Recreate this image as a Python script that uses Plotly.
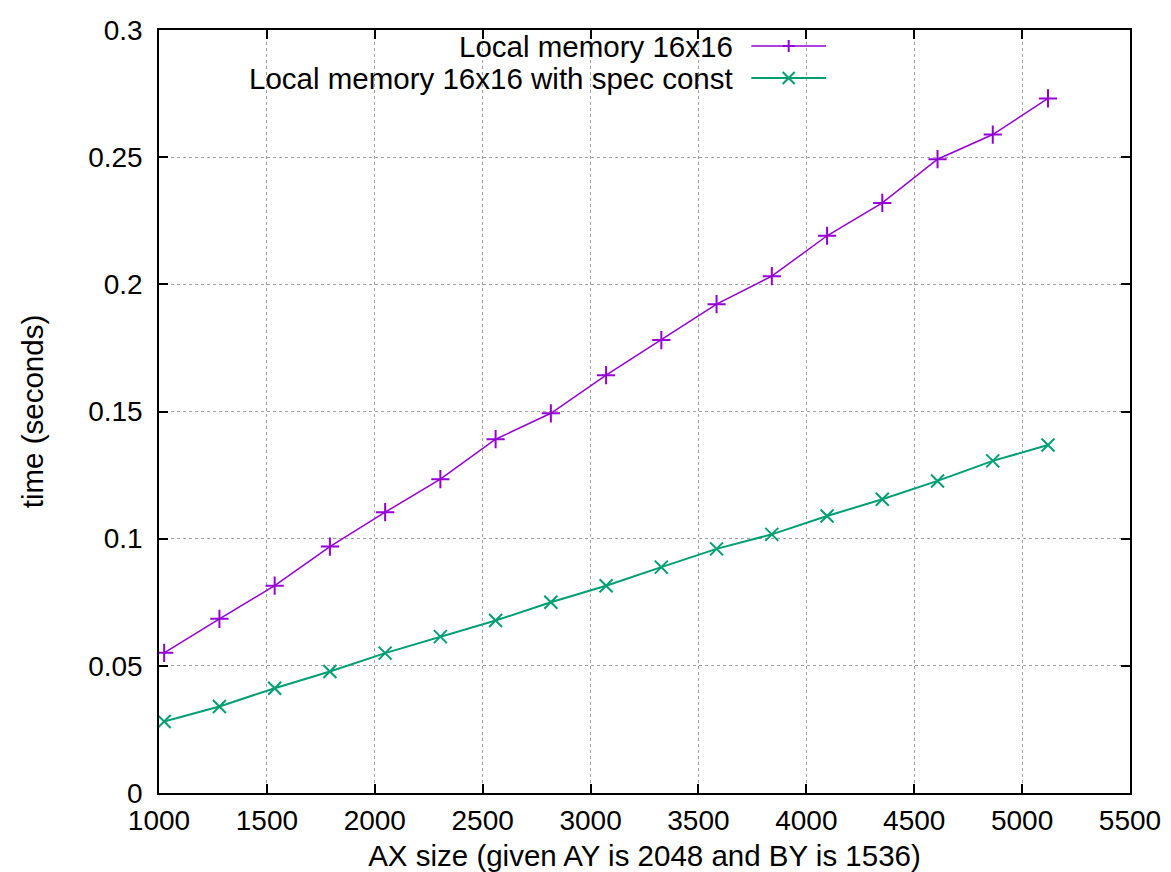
import plotly.graph_objects as go

# AX sizes (multiples of 256)
ax_size = [1024, 1280, 1536, 1792, 2048, 2304, 2560, 2816, 3072,
           3328, 3584, 3840, 4096, 4352, 4608, 4864, 5120]

# Measured run times in seconds
local_mem = [0.0551, 0.0685, 0.0815, 0.0969, 0.1104, 0.1234, 0.1391, 0.1493, 0.1643,
             0.1781, 0.1922, 0.2032, 0.2191, 0.2320, 0.2492, 0.2589, 0.2731]
local_mem_spec = [0.0281, 0.0340, 0.0412, 0.0478, 0.0550, 0.0615, 0.0678, 0.0750, 0.0815,
                  0.0888, 0.0960, 0.1017, 0.1089, 0.1155, 0.1227, 0.1306, 0.1368]

series_names = ["Local memory 16x16", "Local memory 16x16 with spec const"]
series_colors = ["#9400D3", "#009E73"]
series_symbols = ["cross-thin", "x-thin"]

x_ticks = [1000, 1500, 2000, 2500, 3000, 3500, 4000, 4500, 5000, 5500]
y_ticks = [0, 0.05, 0.1, 0.15, 0.2, 0.25, 0.3]
y_tick_text = ["0", "0.05", "0.1", "0.15", "0.2", "0.25", "0.3"]

FONT = "Liberation Sans, Arial, sans-serif"

fig = go.Figure()
for ys, name, col, sym, lw in zip([local_mem, local_mem_spec], series_names,
                                  series_colors, series_symbols, [1.5, 2]):
    fig.add_trace(go.Scatter(
        x=ax_size, y=ys, name=name, mode="lines+markers",
        line=dict(color=col, width=lw),
        marker=dict(symbol=sym, size=13, line=dict(color=col, width=2)),
        showlegend=False,
    ))

# Key in the top area: right-aligned labels followed by sample line and marker
key_rows = [0.979, 0.937]
key_x0, key_x1 = 0.610, 0.687
for name, col, sym, yk, lw in zip(series_names, series_colors, series_symbols, key_rows, [1.5, 2]):
    fig.add_annotation(x=0.593, y=yk, xref="paper", yref="paper", text=name,
                       showarrow=False, xanchor="right", yanchor="middle",
                       font=dict(family=FONT, size=29.5, color="#000000"))
    fig.add_shape(type="line", xref="paper", yref="paper",
                  x0=key_x0, x1=key_x1, y0=yk, y1=yk,
                  line=dict(color=col, width=lw))
    # marker glyph at the middle of the sample line
    mx = (key_x0 + key_x1) / 2
    dx, dy = 6 / 971, 6 / 763
    if sym == "cross-thin":
        segs = [(mx - dx, yk, mx + dx, yk), (mx, yk - dy, mx, yk + dy)]
    else:
        segs = [(mx - dx, yk - dy, mx + dx, yk + dy), (mx - dx, yk + dy, mx + dx, yk - dy)]
    for x0, y0, x1, y1 in segs:
        fig.add_shape(type="line", xref="paper", yref="paper",
                      x0=x0, y0=y0, x1=x1, y1=y1, line=dict(color=col, width=2))

axis_common = dict(
    showline=True, linecolor="#000000", linewidth=1.5, mirror="allticks",
    ticks="inside", ticklen=9, tickwidth=1.5, tickcolor="#000000",
    showgrid=True, gridcolor="#a0a0a0", gridwidth=1, griddash="3px,3px",
    zeroline=False, automargin=False,
    tickfont=dict(family=FONT, size=28, color="#000000"),
)

fig.update_xaxes(range=[1000, 5500], tickvals=x_ticks,
                 ticktext=[str(v) for v in x_ticks],
                 ticklabelstandoff=2,
                 title=dict(text="AX size (given AY is 2048 and BY is 1536)",
                            font=dict(family=FONT, size=29.5, color="#000000"), standoff=14),
                 **axis_common)
fig.update_yaxes(range=[0, 0.3], tickvals=y_ticks, ticktext=y_tick_text,
                 ticklabelstandoff=9,
                 title=dict(text="time (seconds)",
                            font=dict(family=FONT, size=29.5, color="#000000"), standoff=36),
                 **axis_common)

fig.update_layout(
    width=1171, height=872,
    margin=dict(l=159, r=41, t=30, b=79),
    plot_bgcolor="#ffffff", paper_bgcolor="#ffffff",
    font=dict(family=FONT, size=28, color="#000000"),
)

fig.write_html("out.html")
